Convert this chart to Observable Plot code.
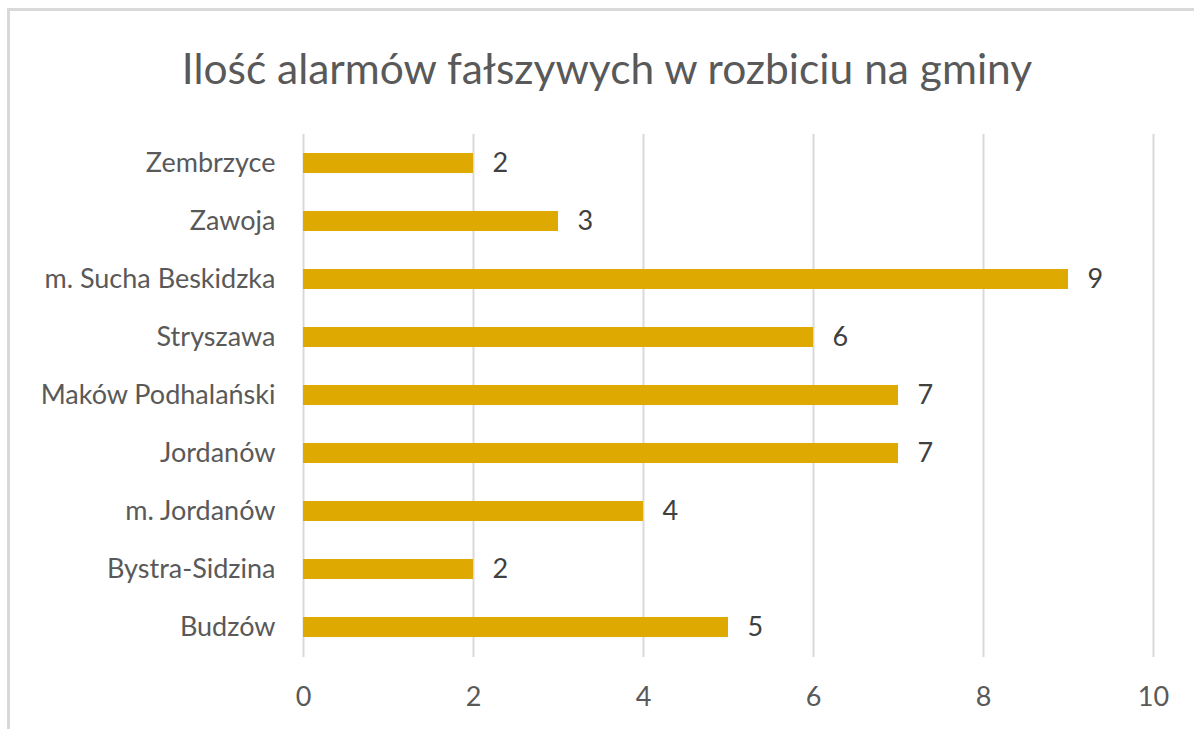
<!DOCTYPE html>
<html>
<head>
<meta charset="utf-8">
<script src="https://cdn.jsdelivr.net/npm/d3@7"></script>
<script src="https://cdn.jsdelivr.net/npm/@observablehq/plot@0.6"></script>
<style>
  html, body { margin: 0; padding: 0; background: #fff; overflow: hidden; }
  #frame { position: absolute; left: 7px; top: 8px; width: 1200px; height: 740px; border-left: 3px solid #d9d9d9; border-top: 3px solid #d9d9d9; box-sizing: border-box; }
  #title { position: absolute; left: 0; top: 0; width: 1214px; height: 110px; text-align: center; font-family: Lato, sans-serif; font-size: 42.5px; color: #595959; line-height: 136px; }
  #chart { position: absolute; left: 0; top: 110px; }
  #chart svg { font-family: Lato, sans-serif; }
</style>
</head>
<body>
<div id="frame"></div>
<div id="title">Ilość alarmów fałszywych w rozbiciu na gminy</div>
<div id="chart"></div>
<script>
const categories = ["Zembrzyce", "Zawoja", "m. Sucha Beskidzka", "Stryszawa", "Maków Podhalański", "Jordanów", "m. Jordanów", "Bystra-Sidzina", "Budzów"];
const values = [2, 3, 9, 6, 7, 7, 4, 2, 5];
const xTicks = [0, 2, 4, 6, 8, 10];

const data = categories.map((c, i) => ({ name: c, value: values[i] }));

const chart = Plot.plot({
  width: 1194,
  height: 619,
  marginTop: 24,
  marginBottom: 72,
  marginLeft: 303,
  marginRight: 41,
  style: { fontFamily: "Lato, sans-serif", fontSize: "27px", color: "#595959", background: "transparent" },
  x: { domain: [0, 10], ticks: xTicks, label: null, tickSize: 0, tickPadding: 29 },
  y: { domain: categories, label: null, tickSize: 0, tickPadding: 28, paddingInner: 0.655, paddingOuter: 0.3275 },
  marks: [
    Plot.ruleX(xTicks, { stroke: "#d9d9d9", strokeWidth: 2 }),
    Plot.barX(data, { x: "value", y: "name", fill: "#dea900" }),
    Plot.text(data, { x: "value", y: "name", text: d => String(d.value), dx: 19, textAnchor: "start", fill: "#404040", fontSize: 27 }),
    Plot.axisX({ ticks: xTicks, tickSize: 0, tickPadding: 29, fontSize: 27 }),
    Plot.axisY({ tickSize: 0, tickPadding: 28, fontSize: 27 })
  ]
});
document.getElementById("chart").appendChild(chart);
</script>
</body>
</html>
